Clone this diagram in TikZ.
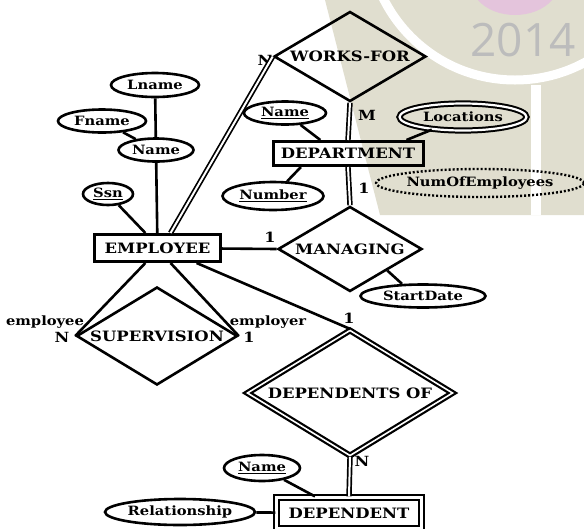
\documentclass[tikz,border=0pt]{standalone}
\usepackage{fontspec}
\setmainfont[FakeStretch=1.15]{DejaVu Serif}
\newfontfamily\markfont{Open Sans}
\usetikzlibrary{shapes.geometric}

\definecolor{markbeige}{RGB}{224,222,207}
\definecolor{markpink}{RGB}{228,196,220}
\definecolor{markgray}{RGB}{188,188,188}

\begin{document}
\begin{tikzpicture}[
    x=1pt, y=-1pt,
    entity/.style={rectangle, draw, line width=3pt, inner sep=0pt, font=\bfseries\fontsize{14.3}{16}\selectfont},
    weakentity/.style={entity, double, line width=2.2pt, double distance=3pt},
    attrib/.style={ellipse, draw, line width=2.6pt, inner sep=0pt, font=\bfseries\fontsize{12.8}{14}\selectfont},
    multiattrib/.style={attrib, double, line width=2pt, double distance=2.2pt},
    derivedattrib/.style={attrib, line width=2.4pt, dash pattern=on 2pt off 2pt},
    relation/.style={diamond, draw, line width=2.6pt, inner sep=0pt, aspect=1.8, font=\bfseries\fontsize{14.3}{16}\selectfont},
    weakrelation/.style={relation, double, line width=2.2pt, double distance=1.6pt},
    link/.style={draw, line width=2.6pt},
    total/.style={draw, double, line width=1.7pt, double distance=2pt},
    card/.style={font=\bfseries\fontsize{14}{16}\selectfont, inner sep=0pt},
    role/.style={font=\bfseries\fontsize{12.8}{14}\selectfont, inner sep=0pt}
]
\useasboundingbox (0,0) rectangle (584,528);

% Background mark
\fill[markbeige] (325,0) -- (584,0) -- (584,215) -- (380,215) -- cycle;
\draw[white, line width=9pt] (515,-67) circle[radius=147pt];
\fill[markpink] (478,0) .. controls (495,20) and (535,20) .. (552,0) -- cycle;
\fill[white] (531,85) rectangle (541,215);
\node[text=markgray, font=\markfont\fontsize{46}{46}\selectfont] (year) at (523,40) {2014};

% Entities
\node[entity, minimum width=126pt, minimum height=27pt] (employee) at (157.5,248) {EMPLOYEE};
\node[entity, minimum width=150pt, minimum height=24pt] (department) at (348,153.5) {DEPARTMENT};
\node[weakentity, minimum width=145pt, minimum height=31pt] (dependent) at (349,513) {DEPENDENT};

% Relationships
\node[relation, minimum width=152pt, minimum height=90pt] (worksfor) at (350,56.5) {WORKS-FOR};
\node[relation, minimum width=144pt, minimum height=85pt] (managing) at (350,249) {MANAGING};
\node[relation, minimum width=161pt, minimum height=98pt] (supervision) at (157,336) {SUPERVISION};
\node[weakrelation, minimum width=206pt, minimum height=126pt] (dependentsof) at (350,393) {DEPENDENTS OF};

% Attributes
\node[attrib, minimum width=88pt, minimum height=24pt] (lname) at (155,85) {Lname};
\node[attrib, minimum width=88pt, minimum height=23pt] (fname) at (102,121) {Fname};
\node[attrib, minimum width=75pt, minimum height=23pt] (empname) at (156,150) {Name};
\node[attrib, minimum width=50pt, minimum height=22pt] (ssn) at (108,194) {\underline{Ssn}};
\node[attrib, minimum width=82pt, minimum height=23pt] (deptname) at (285,113) {\underline{Name}};
\node[multiattrib, minimum width=127pt, minimum height=27pt] (locations) at (463,117) {Locations};
\node[attrib, minimum width=101pt, minimum height=28pt] (number) at (273,196) {\underline{Number}};
\node[derivedattrib, minimum width=204pt, minimum height=28pt] (numemployees) at (480,183) {NumOfEmployees};
\node[attrib, minimum width=125pt, minimum height=23pt] (startdate) at (423,296) {StartDate};
\node[attrib, minimum width=76pt, minimum height=26pt] (depname) at (262,468) {\underline{Name}};
\node[attrib, minimum width=150pt, minimum height=26pt] (relationship) at (180,512) {Relationship};

% Cardinalities and roles
\node[card] (nworks) at (265,60) {N};
\node[card] (mworks) at (367,115) {M};
\node[card] (onedept) at (364,188) {1};
\node[card] (onemanager) at (270,237) {1};
\node[card] (nsuper) at (62,337) {N};
\node[card] (onesuper) at (249,337) {1};
\node[card] (oneemp) at (349,318) {1};
\node[card] (ndep) at (362,461) {N};
\node[role] (employeerole) at (45,322) {employee};
\node[role] (employerrole) at (268,322) {employer};

% Attribute links
\path[link] (lname) -- (empname);
\path[link] (fname) -- (empname);
\path[link] (empname) -- (employee);
\path[link] (ssn) -- (employee.129);
\path[link] (deptname) -- (department.154);
\path[link] (locations) -- (department.13);
\path[link] (number) -- (department.196);
\path[link] (startdate.150) -- (managing.-30);
\path[link] (depname) -- (dependent.154);
\path[link] (relationship) -- (dependent);

% Relationship links
\path[total] (worksfor.west) -- (employee.49);
\path[total] (worksfor.south) -- (department.north);
\path[total] (managing.north) -- (department.south);
\path[link] (employee) -- (managing.west);
\path[link] (employee.231) -- (supervision.west);
\path[link] (employee.311) -- (supervision.east);
\path[link] (employee.-21) -- (dependentsof.north);
\path[total] (dependentsof.south) -- (dependent.north);

\end{tikzpicture}
\end{document}
